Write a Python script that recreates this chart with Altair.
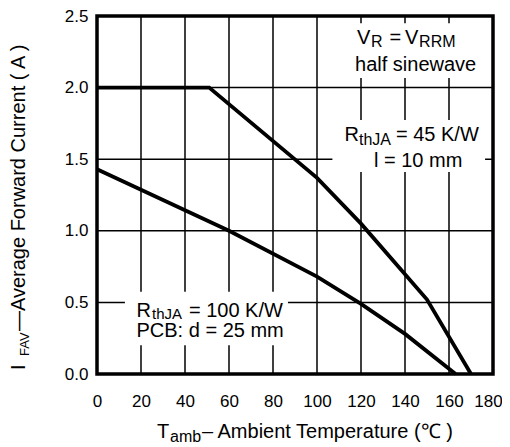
import altair as alt
import pandas as pd

# ---- data ----
temp_45 = [0, 51, 100, 120, 150, 170]
curr_45 = [2.0, 2.0, 1.37, 1.05, 0.52, 0.0]
temp_100 = [0, 60, 100, 120, 140, 163]
curr_100 = [1.43, 1.0, 0.68, 0.49, 0.28, 0.0]

x_ticks = [0, 20, 40, 60, 80, 100, 120, 140, 160, 180]
y_ticks = [0.0, 0.5, 1.0, 1.5, 2.0, 2.5]

FONT = "Liberation Sans"
MAIN = 20
SUB = 16

rows = []
for t, c in zip(temp_45, curr_45):
    rows.append({"T": t, "I": c, "s": "45"})
for t, c in zip(temp_100, curr_100):
    rows.append({"T": t, "I": c, "s": "100"})
lines_df = pd.DataFrame(rows)

# white boxes behind annotations (grid interrupted there)
boxes_df = pd.DataFrame({
    "x1": [115, 107, 12.7], "x2": [177, 176.4, 86.8],
    "y1": [2.067, 1.41, 0.2], "y2": [2.45, 1.774, 0.575],
})

# annotation pieces (text, anchor in data coords, font size)
ann = [
    ("V", 118.2, 2.304, MAIN), ("R", 124.5, 2.283, SUB), ("=", 133.0, 2.304, MAIN),
    ("V", 140.0, 2.304, MAIN), ("RRM", 146.4, 2.283, SUB),
    ("half sinewave", 117.3, 2.118, MAIN),
    ("R", 112.5, 1.629, MAIN), ("thJA", 119.1, 1.599, SUB), ("= 45 K/W", 135.9, 1.629, MAIN),
    ("l = 10 mm", 125.9, 1.448, MAIN),
    ("R", 17.95, 0.400, MAIN), ("thJA", 25.0, 0.382, 15), ("= 100 K/W", 41.8, 0.400, MAIN),
    ("PCB: d = 25 mm", 17.95, 0.255, MAIN),
    ("T", 27.3, -0.447, MAIN), ("amb", 33.2, -0.475, SUB),
    ("\u2013 Ambient Temperature (\u2103 )", 47.7, -0.447, MAIN),
]
ann_df = pd.DataFrame(ann, columns=["text", "x", "y", "size"])

ytitle = [
    ("I", -32.7, 0.028, MAIN),
    ("FAV", -30.9, 0.126, 13),
    ("\u2014Average  Forward Current ( A )", -32.7, 0.300, MAIN),
]
ytitle_df = pd.DataFrame(ytitle, columns=["text", "x", "y", "size"])

xscale = alt.Scale(domain=[0, 180], nice=False, zero=False)
yscale = alt.Scale(domain=[0, 2.5], nice=False, zero=False)

xaxis = alt.Axis(values=x_ticks, title=None, grid=False, ticks=False, domain=False,
                 labelFlush=False, labelOverlap=False, labelPadding=19, format="d",
                 labelFont=FONT, labelFontSize=17, labelColor="black",
                 labelOffset={"expr": "datum.value == 180 ? -5 : 0"})
yaxis = alt.Axis(values=y_ticks, title=None, grid=False, ticks=False, domain=False,
                 labelPadding=9, format=".1f", labelOverlap=False,
                 labelFont=FONT, labelFontSize=17, labelColor="black")

xgrid = alt.Chart(pd.DataFrame({"v": x_ticks})).mark_rule(
    color="black", strokeWidth=1.5
).encode(
    x=alt.X("v:Q", scale=xscale, axis=xaxis),
    y=alt.datum(0, scale=yscale), y2=alt.datum(2.5),
)
ygrid = alt.Chart(pd.DataFrame({"v": y_ticks})).mark_rule(
    color="black", strokeWidth=1.5
).encode(
    y=alt.Y("v:Q", scale=yscale, axis=yaxis),
    x=alt.datum(0, scale=xscale), x2=alt.datum(180),
)

box_layer = alt.Chart(boxes_df).mark_rect(color="white").encode(
    x=alt.X("x1:Q", scale=xscale), x2="x2:Q",
    y=alt.Y("y1:Q", scale=yscale), y2="y2:Q",
)

base_lines = alt.Chart(lines_df).mark_line(strokeWidth=3.8, color="black").encode(
    x=alt.X("T:Q", scale=xscale),
    y=alt.Y("I:Q", scale=yscale),
    detail="s:N",
)

ann_layer = alt.Chart(ann_df).mark_text(
    align="left", baseline="alphabetic", font=FONT, color="black"
).encode(
    x=alt.X("x:Q", scale=xscale), y=alt.Y("y:Q", scale=yscale),
    text="text:N", size=alt.Size("size:Q", scale=None),
)

ytitle_layer = alt.Chart(ytitle_df).mark_text(
    align="left", baseline="alphabetic", font=FONT, color="black", angle=270
).encode(
    x=alt.X("x:Q", scale=xscale), y=alt.Y("y:Q", scale=yscale),
    text="text:N", size=alt.Size("size:Q", scale=None),
)

chart = alt.layer(xgrid, ygrid, box_layer, base_lines, ann_layer, ytitle_layer).properties(
    width=396, height=358,
    background="white",
    autosize=alt.AutoSizeParams(type="none"),
    padding={"left": 89, "top": 8, "right": 9, "bottom": 70},
).configure_view(
    stroke="black", strokeWidth=3.5
)

chart.save("out.html", embed_options={"renderer": "svg", "actions": False})
